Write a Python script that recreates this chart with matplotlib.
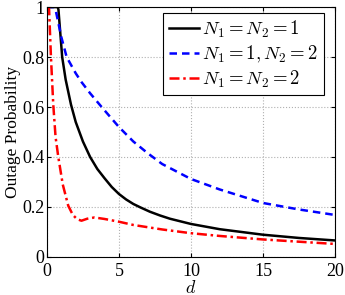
import matplotlib
matplotlib.use('Agg')
import matplotlib.pyplot as plt
import numpy as np

plt.rcParams['font.family'] = ['Liberation Serif', 'DejaVu Serif']
plt.rcParams['mathtext.fontset'] = 'cm'

# Curves: distance d vs outage probability
d_11 = [0, 0.75, 0.8, 1.06, 1.3, 1.67, 2.0, 2.5, 3.0, 3.5, 4.0, 4.5, 5.0, 5.5, 6.0, 6.5, 7.15, 7.85, 8.54, 10.0, 12.0, 15.0, 17.5, 20.0]
p_11 = [1, 1, 0.99, 0.8, 0.71, 0.61, 0.54, 0.462, 0.4, 0.352, 0.315, 0.28, 0.252, 0.23, 0.212, 0.198, 0.181, 0.166, 0.153, 0.132, 0.111, 0.089, 0.076, 0.066]

d_12 = [0, 0.5, 0.6, 1.0, 1.37, 2.0, 2.4, 3.0, 3.8, 5.0, 6.0, 7.0, 8.0, 10.0, 12.0, 15.0, 17.5, 20.0]
p_12 = [1, 1, 0.99, 0.88, 0.8, 0.735, 0.7, 0.655, 0.6, 0.52, 0.462, 0.415, 0.372, 0.312, 0.27, 0.216, 0.19, 0.168]

d_22 = [0, 0.12, 0.15, 0.28, 0.44, 0.6, 0.79, 1.1, 1.48, 1.8, 2.1, 2.4, 2.8, 3.3, 4.0, 5.0, 6.0, 8.0, 10.0, 12.0, 15.0, 20.0]
p_22 = [1, 1, 0.99, 0.8, 0.61, 0.48, 0.4, 0.29, 0.205, 0.168, 0.151, 0.145, 0.153, 0.158, 0.152, 0.141, 0.128, 0.11, 0.095, 0.084, 0.07, 0.052]

labels = [r'$N_1 = N_2 = 1$', r'$N_1 = 1, N_2 = 2$', r'$N_1 = N_2 = 2$']

fig = plt.figure(figsize=(3.45, 2.95), dpi=100)
ax = fig.add_axes([0.136, 0.129, 0.835, 0.847])

ax.plot(d_11, p_11, 'k-', linewidth=1.8, label=labels[0])
ax.plot(d_12, p_12, color='b', linestyle=(0, (3, 2)), linewidth=1.8, label=labels[1])
ax.plot(d_22, p_22, color='r', linestyle=(0, (4, 1.5, 1, 1.5)), linewidth=1.8, label=labels[2])

ax.set_xlim(0, 20)
ax.set_ylim(0, 1)
ax.set_xticks([0, 5, 10, 15, 20])
ax.set_yticks([0, 0.2, 0.4, 0.6, 0.8, 1])
ax.set_yticklabels(['0', '0.2', '0.4', '0.6', '0.8', '1'])
ax.tick_params(direction='in', top=True, right=True, labelsize=13, length=3)
ax.tick_params(axis='x', pad=4)
ax.tick_params(axis='y', pad=2)
ax.grid(True, linestyle=':', color='#b0b0b0', linewidth=0.8)
ax.set_xlabel(r'$d$', fontsize=13, labelpad=0)
ax.set_ylabel('Outage Probability', fontsize=12.5, labelpad=1)

leg = ax.legend(loc='upper right', bbox_to_anchor=(0.962, 0.976), fontsize=13.5,
                fancybox=False, framealpha=1, edgecolor='k', handlelength=1.6,
                handletextpad=0.2, labelspacing=0.2, borderpad=0.3, borderaxespad=0)
leg.get_frame().set_linewidth(0.8)

plt.savefig('out.png', dpi=100)
